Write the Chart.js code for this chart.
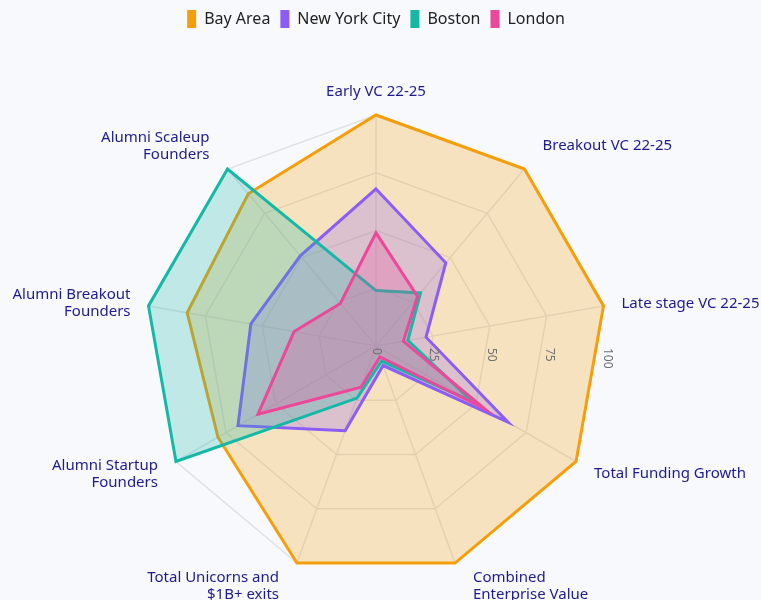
<!DOCTYPE html>
<html>
<head>
<meta charset="utf-8">
<script src="https://cdn.jsdelivr.net/npm/chart.js@4.4.0/dist/chart.umd.min.js"></script>
<style>
  html, body { margin: 0; padding: 0; background: #f8f9fc; }
  #wrap { width: 761px; height: 600px; position: relative; }
</style>
</head>
<body>
<div id="wrap"><canvas id="radarChart"></canvas></div>
<script>
// axes, clockwise from the top
var categories = [
    ['Early VC 22-25'],
    ['Breakout VC 22-25'],
    ['Late stage VC 22-25'],
    ['Total Funding Growth'],
    ['Combined', 'Enterprise Value'],
    ['Total Unicorns and', '$1B+ exits'],
    ['Alumni Startup', 'Founders'],
    ['Alumni Breakout', 'Founders'],
    ['Alumni Scaleup', 'Founders']
];
var bayArea = [100, 100, 100, 100, 100, 100, 79, 83, 86];
var newYork = [68, 47, 22, 66, 9, 39, 69, 55, 51];
var boston = [24, 30, 14, 48, 7, 24, 100, 100, 100];
var london = [49, 28, 12, 54, 5, 19, 59, 36, 24];
var tickValues = [0, 25, 50, 75, 100];

// push the plot down below the legend
var legendGap = {
    id: 'legendGap',
    beforeInit: function (chart) {
        var origFit = chart.legend.fit;
        chart.legend.fit = function () {
            origFit.bind(chart.legend)();
            this.height += 77;
        };
    }
};

// category labels and the rotated radial ticks
var axisText = {
    id: 'axisText',
    afterDatasetsDraw: function (chart) {
        var r = chart.scales.r;
        var ctx = chart.ctx;
        ctx.save();

        ctx.font = '12px "Noto Sans"';
        ctx.fillStyle = '#707070';
        ctx.textAlign = 'left';
        ctx.textBaseline = 'middle';
        tickValues.forEach(function (v) {
            var d = r.getDistanceFromCenterForValue(v);
            ctx.save();
            ctx.translate(r.xCenter + d, r.yCenter + 2);
            ctx.rotate(Math.PI / 2);
            ctx.fillText(String(v), 0, 0);
            ctx.restore();
        });

        ctx.font = '15px "Noto Sans"';
        ctx.fillStyle = '#1e1b8b';
        var lh = 17.5;
        categories.forEach(function (lines, i) {
            var p = r.getPointPosition(i, r.drawingArea);
            var c = Math.cos(p.angle);
            var s = -Math.sin(p.angle);
            var x = p.x;
            if (Math.abs(c) < 0.01) {
                ctx.textAlign = 'center';
            } else if (c > 0) {
                ctx.textAlign = 'left';
                x += 18;
            } else {
                ctx.textAlign = 'right';
                x -= 18;
            }
            var k = Math.min(1, Math.pow(Math.abs(s) / 0.75, 1.5));
            var yc = p.y - 23 * Math.sign(s) * k;
            var y0 = yc - (lines.length - 1) * lh / 2;
            lines.forEach(function (t, j) {
                ctx.fillText(t, x, y0 + j * lh);
            });
        });
        ctx.restore();
    }
};

var ctx = document.getElementById('radarChart').getContext('2d');
var radarChart = new Chart(ctx, {
    type: 'radar',
    data: {
        labels: categories,
        datasets: [
            {
                label: 'Bay Area',
                data: bayArea,
                borderColor: '#f59e0b',
                backgroundColor: 'rgba(245, 158, 11, 0.25)',
                order: 4
            },
            {
                label: 'New York City',
                data: newYork,
                borderColor: '#8b5cf6',
                backgroundColor: 'rgba(139, 92, 246, 0.25)',
                order: 3
            },
            {
                label: 'Boston',
                data: boston,
                borderColor: '#14b8a6',
                backgroundColor: 'rgba(20, 184, 166, 0.25)',
                order: 2
            },
            {
                label: 'London',
                data: london,
                borderColor: '#ec4899',
                backgroundColor: 'rgba(236, 72, 153, 0.25)',
                order: 1
            }
        ]
    },
    options: {
        responsive: true,
        maintainAspectRatio: false,
        animation: false,
        layout: {
            padding: { left: 0, right: 9, top: 0, bottom: 23 }
        },
        elements: {
            line: { borderWidth: 3, tension: 0, fill: true },
            point: { radius: 0, hoverRadius: 0 }
        },
        scales: {
            r: {
                min: 0,
                max: 100,
                ticks: { display: false, stepSize: 25 },
                grid: { color: '#dfe1e7', lineWidth: 1.5 },
                angleLines: { color: '#dfe1e7', lineWidth: 1.5 },
                pointLabels: { display: false }
            }
        },
        plugins: {
            tooltip: { enabled: false },
            legend: {
                position: 'top',
                labels: {
                    boxWidth: 9,
                    boxHeight: 18,
                    padding: 10,
                    color: '#222222',
                    font: { family: 'Noto Sans', size: 16 },
                    sort: function (a, b) { return a.datasetIndex - b.datasetIndex; },
                    generateLabels: function (chart) {
                        var items = Chart.defaults.plugins.legend.labels.generateLabels(chart);
                        items.forEach(function (it) {
                            it.fillStyle = it.strokeStyle;
                            it.lineWidth = 0;
                        });
                        return items;
                    }
                }
            }
        }
    },
    plugins: [legendGap, axisText]
});
</script>
</body>
</html>
